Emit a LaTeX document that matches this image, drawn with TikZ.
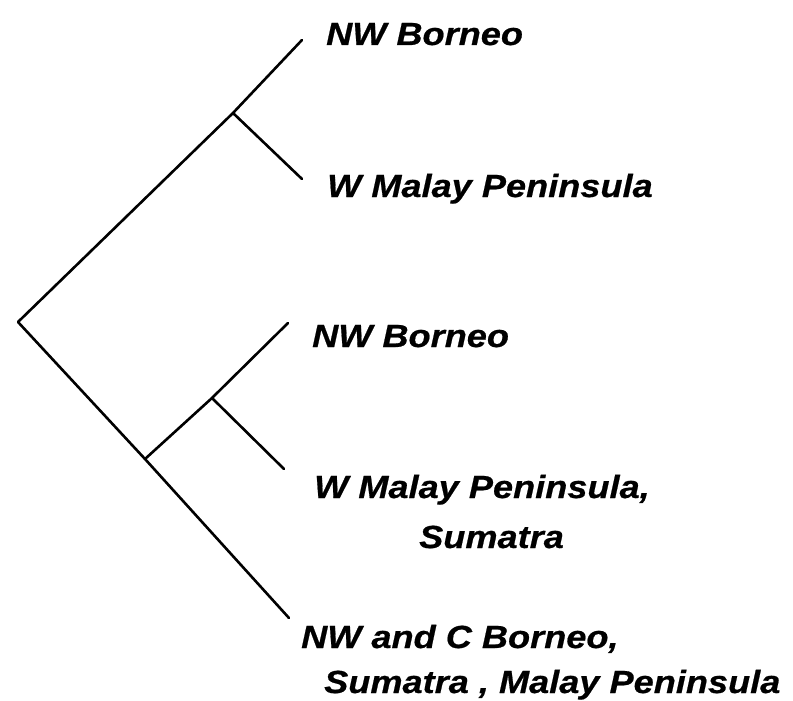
\documentclass[tikz,border=0pt]{standalone}
\usepackage{fontspec}
\setmainfont{Liberation Sans}[BoldItalicFeatures={FakeStretch=1.13,FakeBold=0.6}]
\begin{document}
\begin{tikzpicture}[x=1pt,y=-1pt,
  branch/.style={line width=2.6pt,line cap=round,line join=round},
  taxon/.style={anchor=base west,inner sep=0pt,font=\fontsize{32}{46}\selectfont\bfseries\itshape}]
\useasboundingbox (0,0) rectangle (793,701);
% tree points
\coordinate (root) at (18,322);
\coordinate (u) at (233,113);
\coordinate (t1) at (302,40);
\coordinate (t2) at (302,179);
\coordinate (l) at (145,459);
\coordinate (li) at (212,398);
\coordinate (t3) at (288,323);
\coordinate (t4) at (284,469);
\coordinate (t5) at (289,618);
% branches
\draw[branch] (t1) -- (u) -- (root) -- (l) -- (t5);
\draw[branch] (u) -- (t2);
\draw[branch] (l) -- (li) -- (t3);
\draw[branch] (li) -- (t4);
% labels
\node[taxon] (a) at (326,45) {NW Borneo};
\node[taxon] (b) at (327,197) {W Malay Peninsula};
\node[taxon] (c) at (312,347) {NW Borneo};
\node[taxon] (d1) at (314,498) {W Malay Peninsula,};
\node[taxon] (d2) at (419,548) {Sumatra};
\node[taxon] (e1) at (301,648) {NW and C Borneo,};
\node[taxon] (e2) at (324,693) {Sumatra , Malay Peninsula};
\end{tikzpicture}
\end{document}
